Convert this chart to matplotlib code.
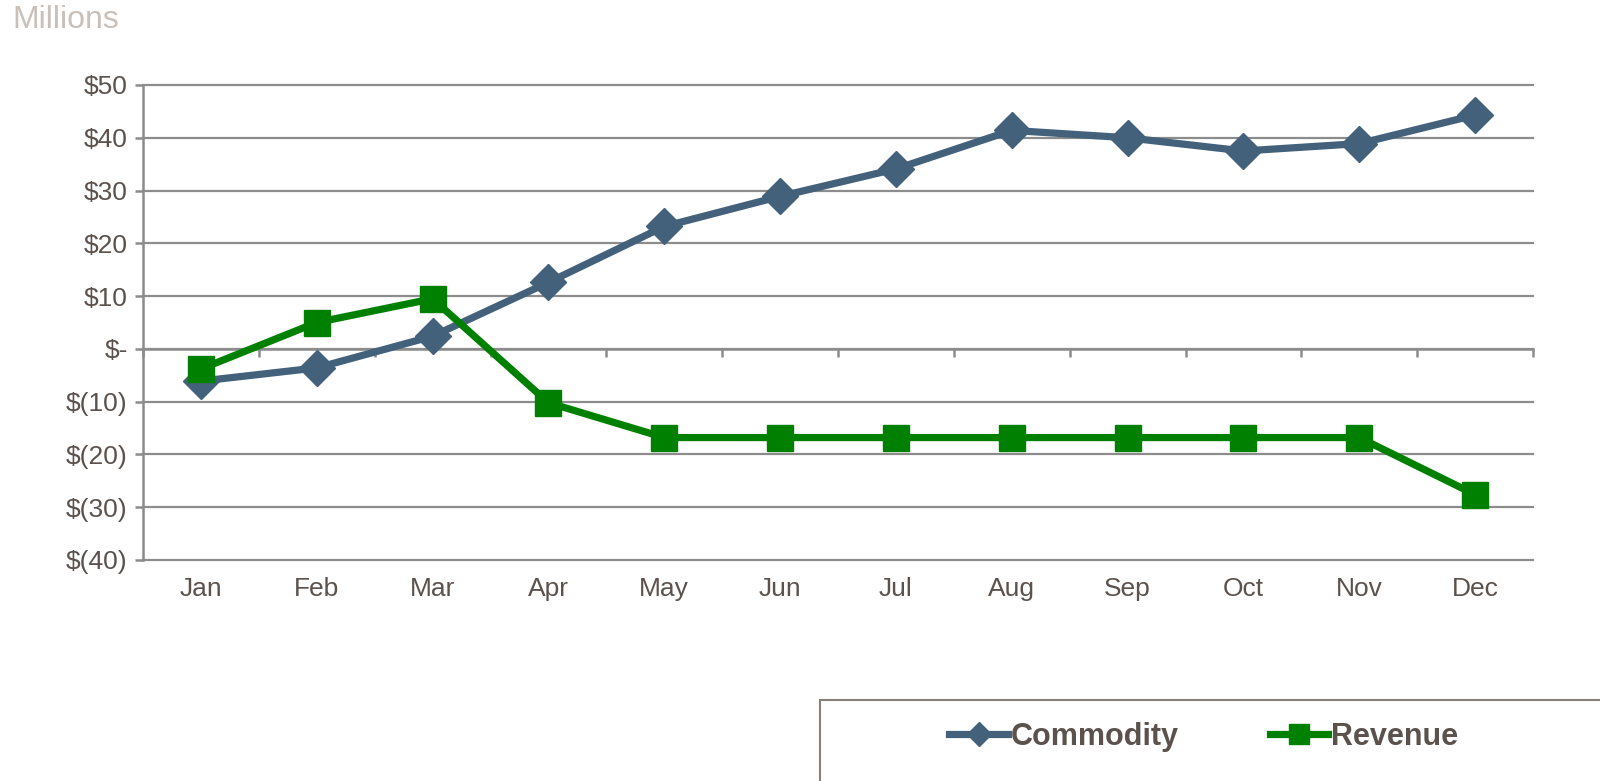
import matplotlib.pyplot as plt
from matplotlib.patches import Rectangle
from matplotlib.lines import Line2D

months = ['Jan', 'Feb', 'Mar', 'Apr', 'May', 'Jun', 'Jul', 'Aug', 'Sep', 'Oct', 'Nov', 'Dec']
commodity = [-6.1, -3.6, 2.4, 12.6, 23.2, 28.9, 34.1, 41.4, 40.0, 37.5, 38.9, 44.3]
revenue = [-3.8, 5.0, 9.5, -10.2, -16.8, -16.8, -16.8, -16.8, -16.8, -16.8, -16.8, -27.6]
yticks = [-40, -30, -20, -10, 0, 10, 20, 30, 40, 50]
ylabels = ['$(40)', '$(30)', '$(20)', '$(10)', '$-', '$10', '$20', '$30', '$40', '$50']

TXT = '#5b524d'
GRID = '#8c8c8c'
BLUE = '#44617b'
GREEN = '#008000'

plt.rcParams['font.family'] = ['Liberation Sans', 'DejaVu Sans']

fig = plt.figure(figsize=(16, 7.81), dpi=100)
ax = fig.add_axes([143/1600, 1-560/781, (1533-143)/1600, 475/781])

x = list(range(len(months)))
ax.plot(x, commodity, color=BLUE, lw=5.2, marker='D', ms=18, zorder=3)
ax.plot(x, revenue, color=GREEN, lw=5.2, marker='s', ms=19, zorder=4)

ax.set_xlim(-0.5, 11.5)
ax.set_ylim(-40, 50)
ax.set_yticks(yticks)
ax.set_yticklabels(ylabels)
for y in yticks:
    ax.axhline(y, color=GRID, lw=1.6, zorder=1, clip_on=False)

for s in ['top', 'right']:
    ax.spines[s].set_visible(False)
ax.spines['left'].set_color(GRID)
ax.spines['left'].set_linewidth(1.8)
ax.spines['bottom'].set_position(('data', 0))
ax.spines['bottom'].set_color(GRID)
ax.spines['bottom'].set_linewidth(1.8)
ax.set_xticks([i + 0.5 for i in range(-1, 12)])
ax.set_xticklabels([])
ax.tick_params(axis='x', length=6, width=1.8, color=GRID, direction='out')
ax.tick_params(axis='y', length=6, width=1.8, color=GRID, labelsize=19, labelcolor=TXT, pad=5)

sec = ax.secondary_xaxis('bottom')
sec.set_xticks(x)
sec.set_xticklabels(months)
sec.tick_params(length=0, labelsize=19, labelcolor=TXT, pad=12)
sec.spines['bottom'].set_visible(False)

fig.text(12/1600, 1-20/781, 'Millions', color='#c9c0ba', fontsize=23, va='center', ha='left')

box = Rectangle((820/1600, -0.05), 0.5, 0.05 + 1-700/781, transform=fig.transFigure,
                fill=False, edgecolor='#8a807b', lw=1.5, clip_on=False)
fig.patches.append(box)

handles = [Line2D([], [], color=BLUE, lw=5.2, marker='D', ms=12),
           Line2D([], [], color=GREEN, lw=5.2, marker='s', ms=15)]
leg = fig.legend(handles, ['Commodity', 'Revenue'], loc='center', ncol=2, frameon=False,
                 bbox_to_anchor=(1204/1600, 1-737/781), handlelength=1.9, handletextpad=0.1,
                 columnspacing=3.0, prop={'weight': 'bold', 'size': 22})
for t in leg.get_texts():
    t.set_color(TXT)

fig.savefig('out.png', dpi=100)
